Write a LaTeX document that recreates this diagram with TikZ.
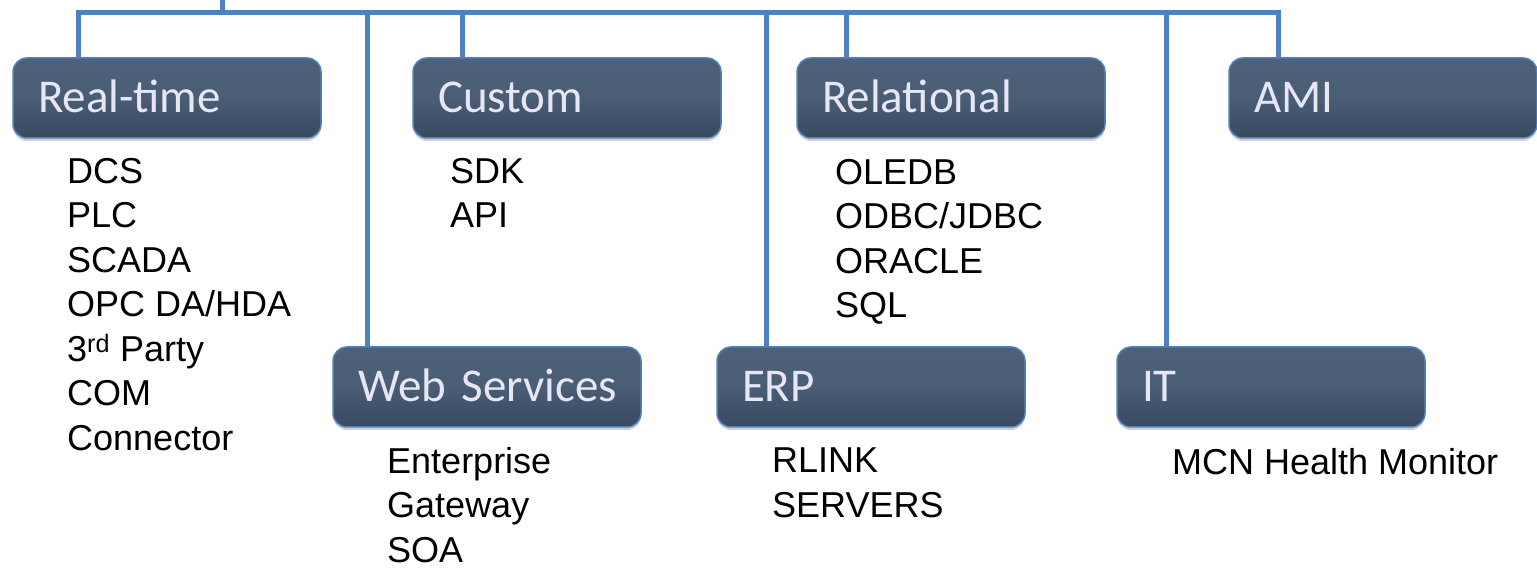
\documentclass[tikz,border=0pt]{standalone}
\usepackage{fontspec}
\setmainfont{Liberation Sans}
\newfontfamily\boxfont{Carlito}
\usetikzlibrary{shadows,backgrounds}

\definecolor{wireblue}{RGB}{79,129,189}
\definecolor{boxtop}{RGB}{77,97,121}
\definecolor{boxbot}{RGB}{56,73,96}
\definecolor{boxtext}{RGB}{230,230,245}

\def\wirew{5pt}
\def\busy{557.5}

\tikzset{
  cat/.style={rectangle, rounded corners=14pt, draw=wireblue, line width=1.5pt,
    top color=boxtop, bottom color=boxbot, middle color=boxtop!85!boxbot,
    drop shadow={shadow xshift=0pt, shadow yshift=-3pt, opacity=0.3, fill=black!60},
    minimum height=80pt, text width=258pt, inner xsep=25pt, inner ysep=0pt,
    align=left, text height=29pt, text depth=0pt,
    font=\boxfont\fontsize{47}{52}\selectfont, text=boxtext},
  items/.style={anchor=north west, inner sep=0pt, align=left,
    font=\fontsize{36}{44.5}\selectfont},
  wire/.style={draw=wireblue, line width=\wirew}
}

\begin{document}
\begin{tikzpicture}[x=1pt, y=1pt]
  \useasboundingbox (0,0) rectangle (1537,570);

  % upper row
  \node[cat] (realtime) at (167,472) {Real-time};
  \node[cat] (custom) at (567,472) {Custom};
  \node[cat] (relational) at (951,472) {Relational};
  \node[cat] (ami) at (1383,472) {AMI};
  % lower row
  \node[cat] (websvc) at (487,183) {\mbox{Web Services}};
  \node[cat] (erp) at (871,183) {ERP};
  \node[cat] (it) at (1271,183) {IT};

  \node[items] (rtlist) at (67,412) {DCS\\PLC\\SCADA\\OPC DA/HDA\\3\textsuperscript{rd} Party\\COM\\Connector};
  \node[items] (cuslist) at (450,412) {SDK\\API};
  \node[items] (rellist) at (835,411) {OLEDB\\ODBC/JDBC\\ORACLE\\SQL};
  \node[items] (weblist) at (387,123) {Enterprise\\Gateway\\SOA};
  \node[items] (erplist) at (772,122) {RLINK\\SERVERS};
  \node[items] (itlist) at (1172,122) {MCN Health Monitor};

  \begin{scope}[on background layer]
    \coordinate (top) at (222,570);
    \coordinate (busL) at (78,\busy);
    \coordinate (busR) at (1278,\busy);
    \draw[wire] (top) -- (top |- busL);
    \draw[wire, line join=miter] (realtime.north -| busL) -- (busL) -- (busR) -- (ami.north -| busR);
    \foreach \x/\b in {462/custom, 846/relational, 367/websvc, 766/erp, 1166/it} {
      \coordinate (tap-\b) at (\x,\busy);
      \draw[wire] (tap-\b) -- (tap-\b |- \b.north);
    }
  \end{scope}
\end{tikzpicture}
\end{document}
